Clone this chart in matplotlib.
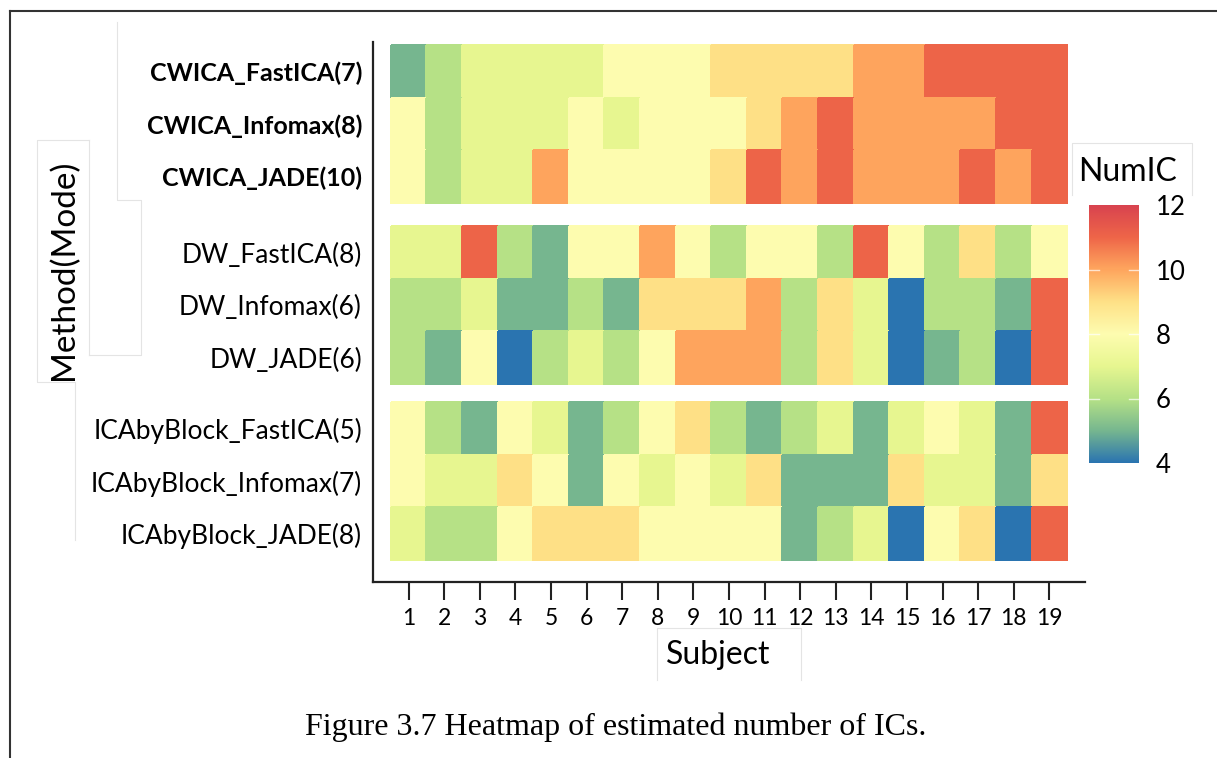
import numpy as np
import matplotlib
matplotlib.use("Agg")
import matplotlib.pyplot as plt
from matplotlib.colors import LinearSegmentedColormap
from matplotlib.lines import Line2D

# ---------------- data ----------------
subjects = list(range(1, 20))
methods = ["CWICA_FastICA(7)", "CWICA_Infomax(8)", "CWICA_JADE(10)",
           "DW_FastICA(8)", "DW_Infomax(6)", "DW_JADE(6)",
           "ICAbyBlock_FastICA(5)", "ICAbyBlock_Infomax(7)", "ICAbyBlock_JADE(8)"]
cwica_fastica = [5, 6, 7, 7, 7, 7, 8, 8, 8, 9, 9, 9, 9, 10, 10, 11, 11, 11, 11]
cwica_infomax = [8, 6, 7, 7, 7, 8, 7, 8, 8, 8, 9, 10, 11, 10, 10, 10, 10, 11, 11]
cwica_jade = [8, 6, 7, 7, 10, 8, 8, 8, 8, 9, 11, 10, 11, 10, 10, 10, 11, 10, 11]
dw_fastica = [7, 7, 11, 6, 5, 8, 8, 10, 8, 6, 8, 8, 6, 11, 8, 6, 9, 6, 8]
dw_infomax = [6, 6, 7, 5, 5, 6, 5, 9, 9, 9, 10, 6, 9, 7, 4, 6, 6, 5, 11]
dw_jade = [6, 5, 8, 4, 6, 7, 6, 8, 10, 10, 10, 6, 9, 7, 4, 5, 6, 4, 11]
icab_fastica = [8, 6, 5, 8, 7, 5, 6, 8, 9, 6, 5, 6, 7, 5, 7, 8, 7, 5, 11]
icab_infomax = [8, 7, 7, 9, 8, 5, 8, 7, 8, 7, 9, 5, 5, 5, 9, 7, 7, 5, 9]
icab_jade = [7, 6, 6, 8, 9, 9, 9, 8, 8, 8, 8, 5, 6, 7, 4, 8, 9, 4, 11]
groups = [[cwica_fastica, cwica_infomax, cwica_jade],
          [dw_fastica, dw_infomax, dw_jade],
          [icab_fastica, icab_infomax, icab_jade]]
vmin, vmax = 4, 12
cbar_ticks = [4, 6, 8, 10, 12]

# ---------------- style ----------------
W, H = 1217, 758
DPI = 100
FONT = ["Lato", "DejaVu Sans"]
plt.rcParams["font.family"] = FONT

cmap = LinearSegmentedColormap.from_list(
    "spec", ["#2a74b0", "#76b68f", "#b6e186", "#e7f690", "#fdfcb0",
             "#fee187", "#fea65e", "#ee6548", "#d8434f"])

fig = plt.figure(figsize=(W / DPI, H / DPI), dpi=DPI)


def fx(px):
    return px / W


def fy(py):
    return 1 - py / H


# main axes: left spine x=373, bottom spine y=582, top y=42, right x=1085
ax = fig.add_axes([fx(373), fy(582), fx(1085) - fx(373), fy(42) - fy(582)])

group_offsets = [0.0, 3.45, 6.8]
ytick_pos = []
xedges = np.arange(0.5, 20.0, 1.0)
for g, off in zip(groups, group_offsets):
    data = np.array(g, dtype=float)
    yedges = off + np.arange(0, 4)
    ax.pcolormesh(xedges, yedges, data, cmap=cmap, vmin=vmin, vmax=vmax,
                  edgecolor="face", linewidth=0.3)
    ytick_pos += list(off + np.arange(3) + 0.5)

ax.set_xlim(0.0, 20.0)
ax.set_ylim(10.22, -0.06)
ax.set_xticks(subjects)
ax.set_xticklabels([str(s) for s in subjects], fontsize=16.5)
ax.set_yticks(ytick_pos)
ax.set_yticklabels(methods, fontsize=19)
for i, lab in enumerate(ax.get_yticklabels()):
    if i < 3:
        lab.set_fontweight("bold")
        lab.set_fontsize(18)
ax.tick_params(axis="y", length=0, pad=8)
ax.tick_params(axis="x", length=13, width=1.5, color="#222222", pad=6)
for s in ["top", "right"]:
    ax.spines[s].set_visible(False)
for s in ["left", "bottom"]:
    ax.spines[s].set_linewidth(1.6)
    ax.spines[s].set_color("#222222")
ax.set_facecolor("white")

fig.text(fx(718), fy(655), "Subject", fontsize=23, ha="center", va="center")
fig.text(fx(64), fy(270), "Method(Mode)", fontsize=24, ha="center", va="center",
         rotation=90)

# colorbar
cax = fig.add_axes([fx(1089), fy(463), fx(1139) - fx(1089), fy(205) - fy(463)])
sm = matplotlib.cm.ScalarMappable(norm=matplotlib.colors.Normalize(vmin, vmax), cmap=cmap)
cb = fig.colorbar(sm, cax=cax, ticks=cbar_ticks)
cb.outline.set_visible(False)
cax.tick_params(length=0, labelsize=18.5, pad=12)
for t in [6, 8, 10]:
    cax.plot([0, 0.2], [t, t], color="white", lw=1, alpha=0.7, transform=cax.get_yaxis_transform())
    cax.plot([0.8, 1.0], [t, t], color="white", lw=1, alpha=0.7, transform=cax.get_yaxis_transform())
fig.text(fx(1128), fy(172), "NumIC", fontsize=23, ha="center", va="center")

# caption
fig.text(fx(616), fy(727), "Figure 3.7 Heatmap of estimated number of ICs.",
         fontsize=23, ha="center", va="center", family=["Liberation Serif", "DejaVu Serif"])

# outer border
fig.add_artist(Line2D([fx(10), fx(10)], [fy(11), 0], color="#333333", lw=1.5))
fig.add_artist(Line2D([fx(10), 1], [fy(11), fy(11)], color="#333333", lw=1.5))

# faint box artifacts
faint = dict(color="#e4e4e4", lw=0.8)
segs = [
    [(117, 22), (117, 200), (141, 200), (141, 355), (89, 355)],
    [(89, 140), (37, 140), (37, 382), (75, 382), (75, 540)],
    [(89, 140), (89, 355)],
    [(657, 680), (657, 628), (801, 628), (801, 680)],
    [(1072, 195), (1072, 143), (1192, 143), (1192, 195)],
]
for seg in segs:
    xs = [fx(p[0]) for p in seg]
    ys = [fy(p[1]) for p in seg]
    fig.add_artist(Line2D(xs, ys, **faint))

fig.savefig("out.png", dpi=DPI)
